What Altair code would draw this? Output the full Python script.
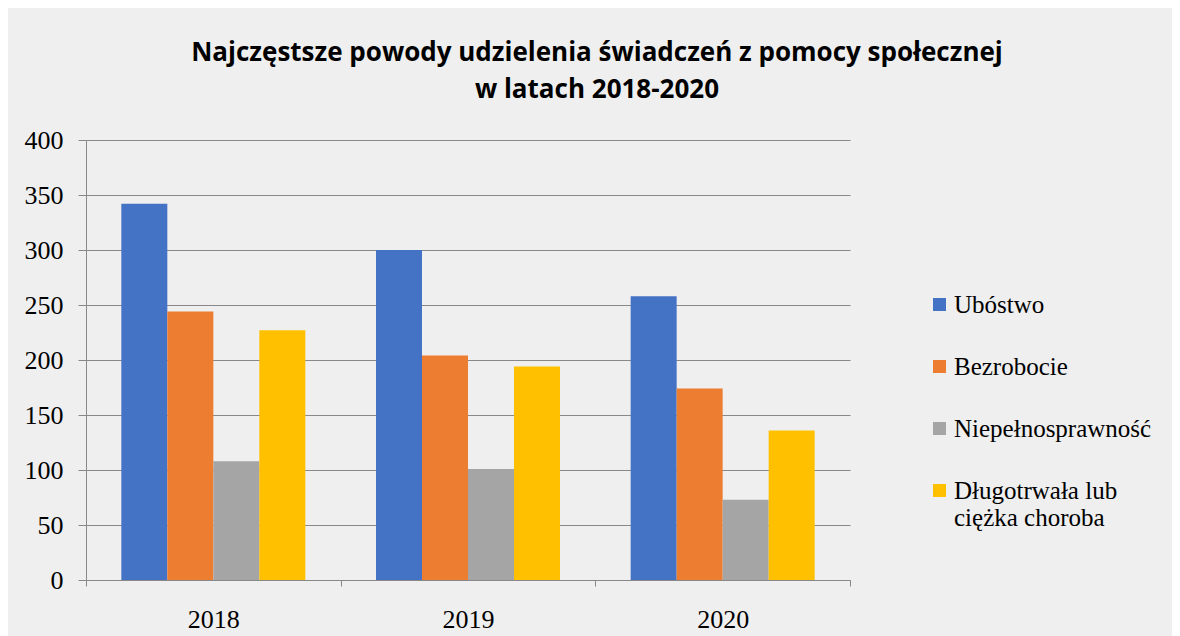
import altair as alt
import pandas as pd

years = ["2018", "2019", "2020"]
series = ["Ubóstwo", "Bezrobocie", "Niepełnosprawność", "Długotrwała lub ciężka choroba"]
ubostwo = [342, 300, 258]
bezrobocie = [244, 204, 174]
niepelnosprawnosc = [108, 101, 73]
choroba = [227, 194, 136]
colors = ["#4472C4", "#ED7D31", "#A5A5A5", "#FFC000"]
y_ticks = [0, 50, 100, 150, 200, 250, 300, 350, 400]

rows = []
for s, vals in zip(series, [ubostwo, bezrobocie, niepelnosprawnosc, choroba]):
    for y, v in zip(years, vals):
        rows.append({"rok": y, "powod": s, "wartosc": v})
df = pd.DataFrame(rows)

serif = "Liberation Serif"
axis_color = "#888888"

chart = alt.Chart(df).mark_bar().encode(
    x=alt.X("rok:N", sort=years,
            scale=alt.Scale(paddingInner=0, paddingOuter=0),
            axis=alt.Axis(title=None, labelAngle=0, labelFont=serif, labelFontSize=26,
                          labelColor="#000000", tickBand="extent", tickSize=6,
                          labelPadding=20, domainColor=axis_color, tickColor=axis_color,
                          grid=False)),
    xOffset=alt.XOffset("powod:N", sort=series,
                        scale=alt.Scale(paddingInner=0, paddingOuter=0.768)),
    y=alt.Y("wartosc:Q",
            scale=alt.Scale(domain=[0, 400], nice=False),
            axis=alt.Axis(title=None, values=y_ticks, labelFont=serif, labelFontSize=26,
                          labelColor="#000000", tickSize=8, labelPadding=15,
                          domainColor=axis_color, tickColor=axis_color,
                          gridColor=axis_color, gridWidth=1)),
    color=alt.Color("powod:N", sort=series,
                    scale=alt.Scale(domain=series, range=colors),
                    legend=alt.Legend(title=None, orient="none", legendX=841, legendY=152,
                                      symbolType="square", symbolSize=169,
                                      symbolStrokeWidth=0, labelFont=serif,
                                      labelFontSize=25, labelColor="#000000",
                                      labelOffset=2, rowPadding=36, padding=0,
                                      labelLimit=320,
                                      labelExpr="datum.label == 'Długotrwała lub ciężka choroba' ? ['Długotrwała lub', 'ciężka choroba'] : datum.label")),
).properties(
    width=764,
    height=440,
    title=alt.TitleParams(
        text=["Najczęstsze powody udzielenia świadczeń z pomocy społecznej",
              "w latach 2018-2020"],
        font="Open Sans", fontSize=26, fontWeight="bold", color="#000000",
        anchor="middle", dx=129, offset=24, lineHeight=37),
    padding={"left": 78, "top": 132, "right": 322, "bottom": 56},
    autosize=alt.AutoSizeParams(type="none"),
    background="#efefef",
).configure_view(stroke=None)

chart.save("out.html", embed_options={"renderer": "svg", "actions": False})
